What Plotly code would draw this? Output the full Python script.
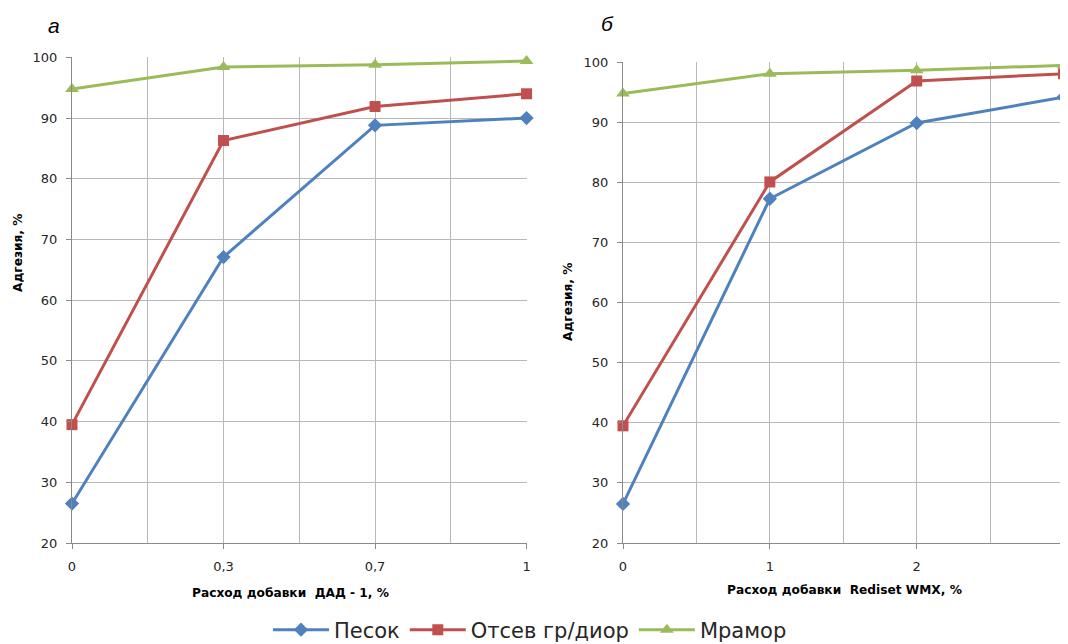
import plotly.graph_objects as go

# ---- data ----
cats_a = ["0", "0,3", "0,7", "1"]
cats_b = ["0", "1", "2", "3"]
series_names = ["Песок", "Отсев гр/диор", "Мрамор"]

pesok_a = [26.5, 67.1, 88.8, 90.0]
otsev_a = [39.5, 86.3, 91.9, 94.0]
mramor_a = [94.8, 98.4, 98.8, 99.4]

pesok_b = [26.5, 77.3, 89.9, 94.2]
otsev_b = [39.5, 80.1, 96.9, 98.1]
mramor_b = [94.8, 98.1, 98.7, 99.5]

y_ticks = [20, 30, 40, 50, 60, 70, 80, 90, 100]

colors = ["#4F81BD", "#C0504D", "#9BBB59"]
symbols = ["diamond", "square", "triangle-up"]
msizes = [11, 11, 12]

# page body has an 8px margin: figure is shifted, so work in page coords minus 8
OFF = 8
W, H = 1068 - OFF, 644 - OFF
FONT = "DejaVu Sans"

def px(x):
    return (x - OFF) / W

def py(y):
    return 1 - (y - OFF) / H

fig = go.Figure()

data_a = [pesok_a, otsev_a, mramor_a]
data_b = [pesok_b, otsev_b, mramor_b]

for i, name in enumerate(series_names):
    fig.add_trace(go.Scatter(
        x=list(range(len(cats_a))), y=data_a[i], name=name,
        mode="lines+markers", xaxis="x", yaxis="y",
        line=dict(color=colors[i], width=3),
        marker=dict(symbol=symbols[i], size=msizes[i], color=colors[i]),
        cliponaxis=False, showlegend=True, legendgroup=name))
for i, name in enumerate(series_names):
    fig.add_trace(go.Scatter(
        x=list(range(len(cats_b))), y=data_b[i], name=name,
        mode="lines+markers", xaxis="x2", yaxis="y2",
        line=dict(color=colors[i], width=3),
        marker=dict(symbol=symbols[i], size=msizes[i], color=colors[i]),
        cliponaxis=False, showlegend=False, legendgroup=name))

grid_c = "#B8B8B8"
axis_c = "#8A8A8A"
tick_font = dict(family=FONT, size=13, color="#262626")

def xax(domain, anchor, cats):
    n = len(cats) - 1
    return dict(domain=domain, anchor=anchor, range=[0, n * 1.001],
                tickvals=list(range(len(cats))), ticktext=cats,
                showgrid=True, gridcolor=grid_c, gridwidth=1,
                minor=dict(dtick=0.5, showgrid=True, gridcolor=grid_c, gridwidth=1, ticks=""),
                showline=True, linecolor=axis_c, linewidth=1,
                ticks="outside", ticklen=5, tickcolor=axis_c,
                ticklabelstandoff=6, ticklabeloverflow="allow",
                tickfont=tick_font, zeroline=False, fixedrange=True, automargin=False)

def yax(domain, anchor):
    return dict(domain=domain, anchor=anchor, range=[20, 100.06],
                tickvals=y_ticks, showgrid=True, gridcolor=grid_c, gridwidth=1,
                showline=True, linecolor=axis_c, linewidth=1,
                ticks="outside", ticklen=5, tickcolor=axis_c,
                ticklabelstandoff=6,
                tickfont=tick_font, zeroline=False, fixedrange=True, automargin=False)

fig.update_layout(
    width=W, height=H,
    margin=dict(l=0, r=0, t=0, b=0, autoexpand=False),
    paper_bgcolor="white", plot_bgcolor="white",
    font=dict(family=FONT),
    xaxis=xax([px(72), px(527)], "y", cats_a),
    yaxis=yax([py(543), py(57)], "x"),
    xaxis2=xax([px(623), px(1064)], "y2", cats_b),
    yaxis2=yax([py(543), py(62)], "x2"),
    legend=dict(orientation="h", x=px(530), xanchor="center", y=py(630), yanchor="middle",
                font=dict(family=FONT, size=21, color="#262626"), itemwidth=56,
                tracegroupgap=32, bgcolor="rgba(0,0,0,0)"),
    showlegend=True,
)

ann = [
    dict(text="<i>а</i>", x=px(54), y=py(26), font=dict(family="Liberation Sans", size=21, color="black")),
    dict(text="<i>б</i>", x=px(607), y=py(24), font=dict(family="Liberation Sans", size=21, color="black")),
    dict(text="<b>Расход добавки  ДАД - 1, %</b>", x=px(290), y=py(593),
         font=dict(family=FONT, size=12.2, color="black")),
    dict(text="<b>Расход добавки  Rediset WMX, %</b>", x=px(844), y=py(590),
         font=dict(family=FONT, size=12.2, color="black")),
    dict(text="<b>Адгезия, %</b>", x=px(18), y=py(253), textangle=-90,
         font=dict(family=FONT, size=12.2, color="black")),
    dict(text="<b>Адгезия, %</b>", x=px(568), y=py(302), textangle=-90,
         font=dict(family=FONT, size=12.2, color="black")),
]
for a in ann:
    a.update(xref="paper", yref="paper", showarrow=False, xanchor="center", yanchor="middle")
fig.update_layout(annotations=ann)

fig.write_html("out.html")
